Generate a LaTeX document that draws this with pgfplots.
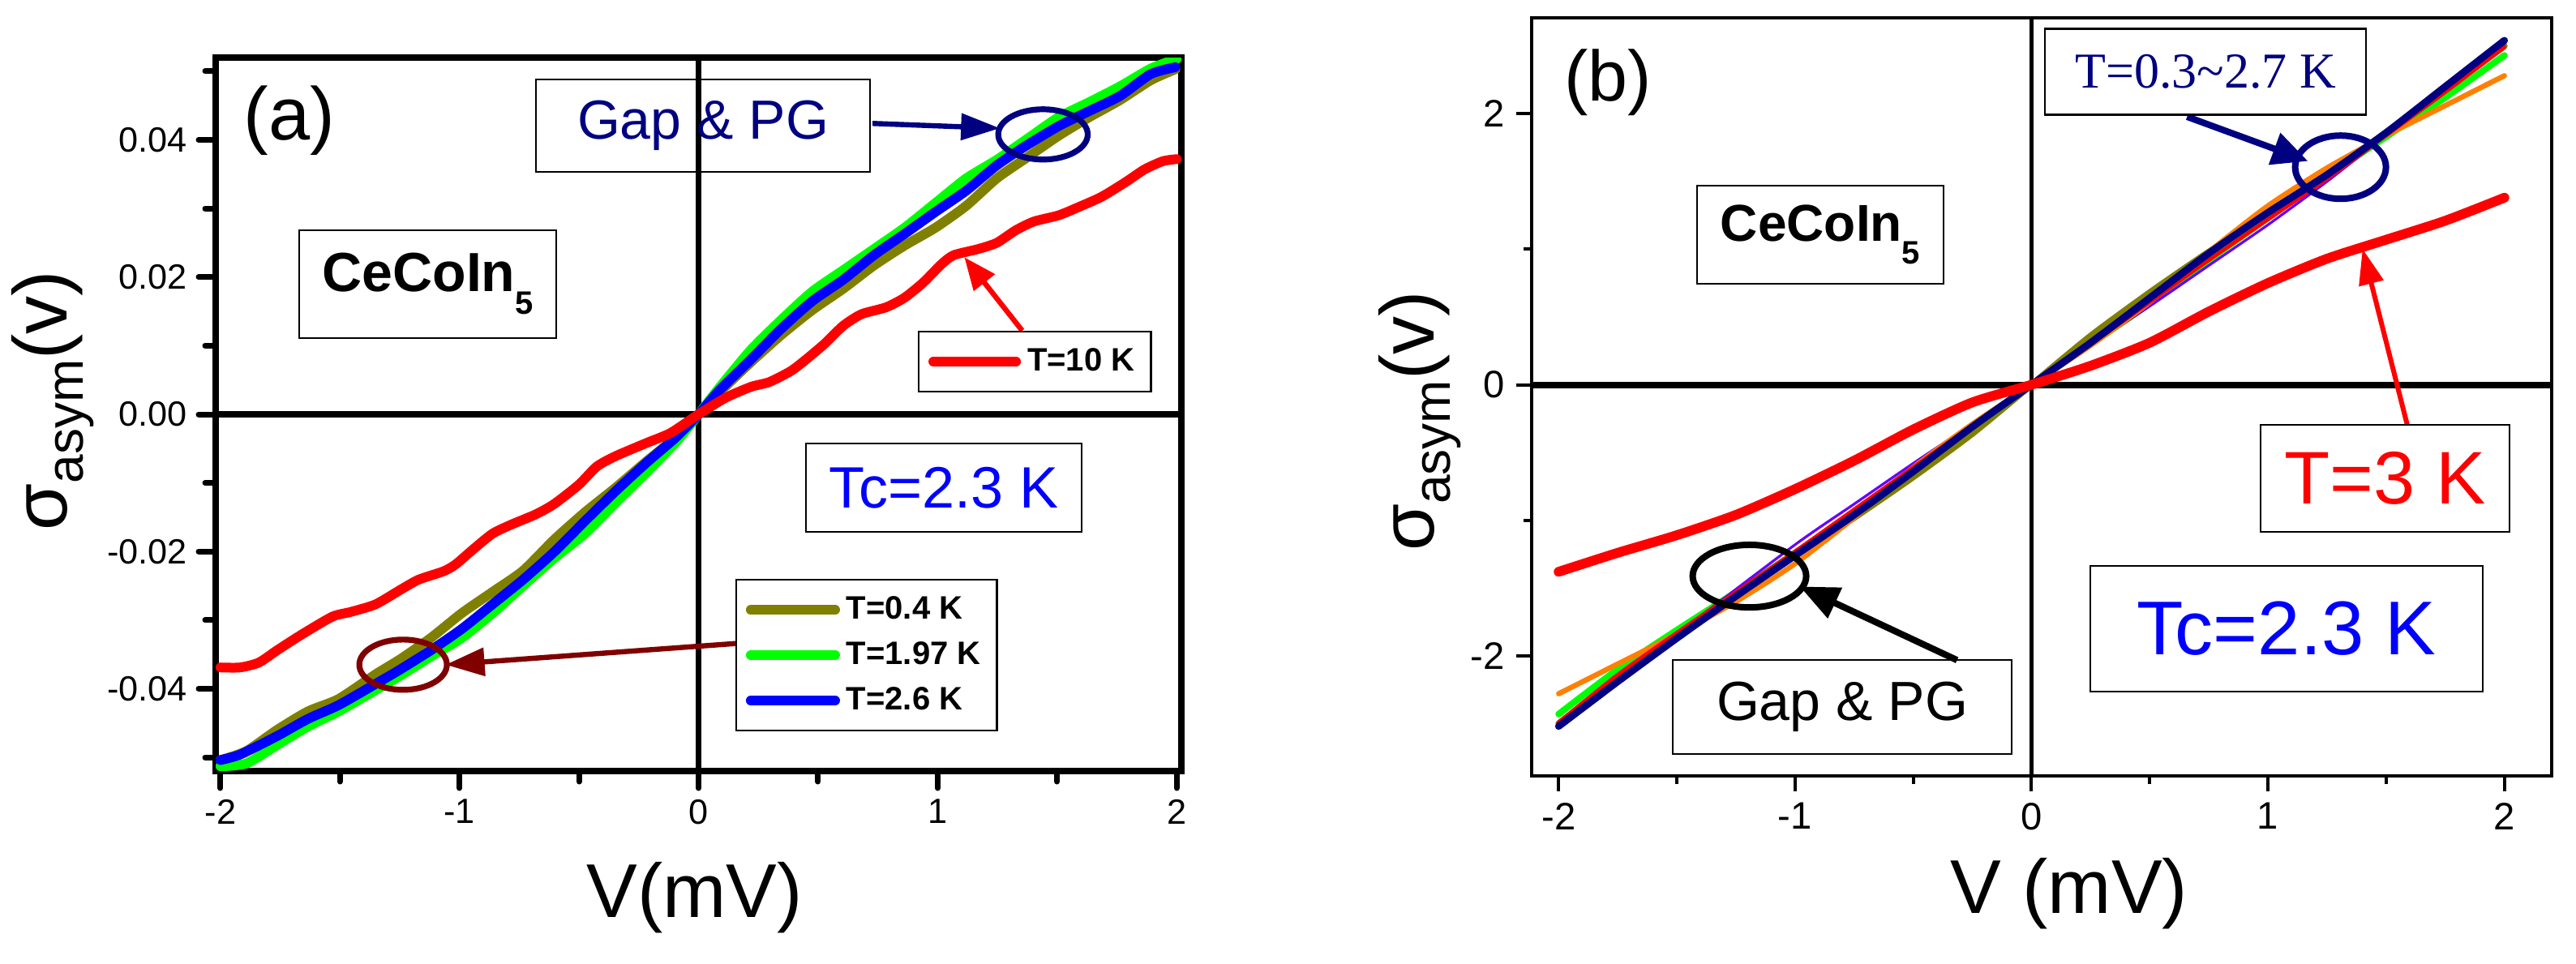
\documentclass[border=0pt]{standalone}
\usepackage{fontspec}
\setmainfont{Liberation Sans}
\newfontfamily\tnr{Liberation Serif}
\usepackage{pgfplots}
\pgfplotsset{compat=1.18}
\usetikzlibrary{arrows.meta}

\definecolor{cOlive}{RGB}{128,128,0}
\definecolor{cGreen}{RGB}{0,255,0}
\definecolor{cBlue}{RGB}{0,0,255}
\definecolor{cRed}{RGB}{255,0,0}
\definecolor{cNavy}{RGB}{0,0,128}
\definecolor{cWine}{RGB}{128,0,0}
\definecolor{cOrange}{RGB}{255,128,0}
\definecolor{cViolet}{RGB}{102,0,255}

\pgfplotsset{
  common/.style={
    scale only axis, tick pos=left, tick align=outside,
    /pgf/number format/assume math mode=true,
    every axis plot/.append style={line cap=round, line join=round, smooth, tension=0.4},
  },
  panelA/.style={
    common,
    at={(66.5pt,59.25pt)}, anchor=south west,
    width=297.75pt, height=220pt,
    xmin=-2.02, xmax=2.02, ymin=-0.052, ymax=0.052,
  },
}

\begin{document}
\begin{tikzpicture}
\path[use as bounding box] (0,0) rectangle (794.25pt,297pt);

% ---------------- panel (a) ----------------
\begin{axis}[panelA,
  xtick={-2,-1,0,1,2}, minor xtick={-1.5,-0.5,0.5,1.5},
  ytick={-0.04,-0.02,0,0.02,0.04}, minor ytick={-0.05,-0.03,-0.01,0.01,0.03,0.05},
  scaled y ticks=false,
  yticklabel style={/pgf/number format/fixed, /pgf/number format/fixed zerofill, /pgf/number format/precision=2},
  axis line style={line width=2pt},
  major tick length=5.25pt, minor tick length=3.25pt,
  tick style={black, line width=1.75pt, line cap=round},
  tick label style={font=\fontsize{10.8}{12}\selectfont},
  xlabel={V(mV)}, ylabel={σ\raisebox{-5pt}{\fontsize{16}{16}\selectfont asym}(v)},
  xlabel style={font=\fontsize{23.5}{28}\selectfont, at={(axis description cs:0.496,-0.178)}, anchor=center},
  ylabel style={font=\fontsize{23.5}{28}\selectfont, at={(axis description cs:-0.169,0.519)}, anchor=center},
  legend style={at={(axis description cs:0.538,0.2693)}, anchor=north west, draw=black, line width=0.6pt,
    font=\bfseries\fontsize{10}{12}\selectfont, inner xsep=3pt, inner ysep=3pt, row sep=1.5pt,
    cells={anchor=west}},
  legend image code/.code={\draw[#1, line width=3pt, sharp plot] (0pt,0pt) -- (26pt,0pt);},
]
\draw[black, line width=1.9pt] (axis cs:0,-0.052) -- (axis cs:0,0.052);
\draw[black, line width=1.9pt] (axis cs:-2.02,0) -- (axis cs:2.02,0);

\addplot[cOlive, line width=3pt] coordinates {
(-2,-0.0504) (-1.892,-0.0491) (-1.763,-0.0460) (-1.634,-0.0433) (-1.506,-0.0415) (-1.351,-0.0379) (-1.248,-0.0357) (-1.12,-0.0326) (-0.991,-0.0290) (-0.862,-0.0259) (-0.734,-0.0228) (-0.605,-0.0183) (-0.476,-0.0143) (-0.347,-0.0107) (-0.219,-0.0069) (-0.093,-0.0033) (0,0) (0.09,0.0033) (0.219,0.0076) (0.347,0.0116) (0.476,0.0152) (0.605,0.0183) (0.734,0.0217) (0.862,0.0246) (0.991,0.0272) (1.12,0.0304) (1.248,0.0344) (1.377,0.0375) (1.506,0.0406) (1.634,0.0433) (1.763,0.0458) (1.892,0.0487) (1.995,0.0503)};
\addlegendentry{T=0.4 K}
\addplot[cGreen, line width=3pt] coordinates {
(-2,-0.0513) (-1.892,-0.0509) (-1.763,-0.0482) (-1.634,-0.0455) (-1.506,-0.0433) (-1.351,-0.0402) (-1.248,-0.0381) (-1.12,-0.0353) (-0.991,-0.0326) (-0.862,-0.0290) (-0.734,-0.0250) (-0.605,-0.0210) (-0.476,-0.0174) (-0.347,-0.0129) (-0.219,-0.0085) (-0.093,-0.0040) (0,0) (0.09,0.0040) (0.219,0.0094) (0.347,0.0138) (0.476,0.0179) (0.605,0.0210) (0.734,0.0241) (0.862,0.0272) (0.991,0.0308) (1.12,0.0344) (1.248,0.0371) (1.377,0.0402) (1.506,0.0433) (1.634,0.0455) (1.763,0.0478) (1.892,0.0504) (2,0.0518)};
\addlegendentry{T=1.97 K}
\addplot[cBlue, line width=3pt] coordinates {
(-2,-0.0504) (-1.918,-0.0496) (-1.763,-0.0469) (-1.634,-0.0444) (-1.506,-0.0424) (-1.351,-0.0393) (-1.248,-0.0372) (-1.12,-0.0344) (-0.991,-0.0313) (-0.862,-0.0277) (-0.734,-0.0241) (-0.605,-0.0201) (-0.476,-0.0156) (-0.347,-0.0112) (-0.219,-0.0071) (-0.093,-0.0033) (0,0) (0.09,0.0036) (0.219,0.0080) (0.347,0.0125) (0.476,0.0165) (0.605,0.0196) (0.734,0.0232) (0.862,0.0263) (0.991,0.0295) (1.12,0.0326) (1.248,0.0363) (1.377,0.0393) (1.506,0.0420) (1.634,0.0442) (1.763,0.0464) (1.892,0.0496) (1.995,0.0506)};
\addlegendentry{T=2.6 K}

% annotations (a)
\draw[cNavy, line width=1.6pt, -{Triangle[length=12pt,width=8pt]}] (axis cs:0.728,0.0424) -- (axis cs:1.261,0.0417);
\draw[cNavy, line width=1.8pt] (axis cs:1.441,0.0408) ellipse [x radius=13.8pt, y radius=7.75pt];
\draw[cWine, line width=1.6pt, -{Triangle[length=12pt,width=8.5pt]}] (axis cs:0.159,-0.0334) -- (axis cs:-1.058,-0.0365);
\draw[cWine, line width=1.8pt] (axis cs:-1.236,-0.0365) ellipse [x radius=13.5pt, y radius=7.75pt];
\draw[cRed, line width=1.6pt, -{Triangle[length=10pt,width=8pt]}] (axis cs:1.354,0.0122) -- (axis cs:1.112,0.0229);
\end{axis}

\begin{axis}[panelA, hide axis,
  legend style={at={(axis description cs:0.727,0.617)}, anchor=north west, draw=black, line width=0.6pt,
    font=\bfseries\fontsize{10}{12}\selectfont, inner xsep=3pt, inner ysep=3pt, cells={anchor=west}},
  legend image code/.code={\draw[#1, line width=3pt, sharp plot] (0pt,0pt) -- (25.5pt,0pt);},
]
\addplot[cRed, line width=3pt] coordinates {
(-2,-0.0369) (-1.918,-0.0369) (-1.84,-0.0362) (-1.763,-0.0344) (-1.66,-0.0321) (-1.532,-0.0295) (-1.454,-0.0288) (-1.351,-0.0277) (-1.248,-0.0256) (-1.171,-0.0241) (-1.068,-0.0229) (-1.017,-0.0219) (-0.94,-0.0196) (-0.862,-0.0174) (-0.785,-0.0161) (-0.682,-0.0146) (-0.605,-0.0131) (-0.502,-0.0103) (-0.425,-0.0076) (-0.347,-0.0061) (-0.219,-0.0042) (-0.116,-0.0027) (0,0) (0.113,0.0024) (0.219,0.0040) (0.296,0.0047) (0.386,0.0063) (0.450,0.0080) (0.528,0.0103) (0.605,0.0129) (0.682,0.0146) (0.785,0.0156) (0.862,0.0170) (0.940,0.0192) (1.017,0.0219) (1.068,0.0232) (1.171,0.0241) (1.248,0.0250) (1.326,0.0268) (1.403,0.0281) (1.506,0.0290) (1.583,0.0301) (1.686,0.0317) (1.789,0.0339) (1.866,0.0357) (1.943,0.0369) (2,0.0372)};
\addlegendentry{T=10 K}
\end{axis}

% ---------------- panel (b) ----------------
\begin{axis}[common,
  at={(472.25pt,57.75pt)}, anchor=south west,
  width=314.5pt, height=233.75pt,
  xmin=-2.114, xmax=2.2, ymin=-2.886, ymax=2.707,
  xtick={-2,-1,0,1,2}, minor xtick={-1.5,-0.5,0.5,1.5},
  ytick={-2,0,2}, minor ytick={-1,1},
  axis line style={line width=1.1pt},
  major tick length=4.75pt, minor tick length=2.5pt,
  tick style={black, line width=1pt},
  tick label style={font=\fontsize{11.8}{13}\selectfont},
  xlabel={V (mV)}, ylabel={σ\raisebox{-5pt}{\fontsize{16}{16}\selectfont asym}(v)},
  xlabel style={font=\fontsize{23.5}{28}\selectfont, at={(axis description cs:0.527,-0.155)}, anchor=center},
  ylabel style={font=\fontsize{23.5}{28}\selectfont, at={(axis description cs:-0.11,0.468)}, anchor=center},
]
\draw[black, line width=1.3pt] (axis cs:0,-2.886) -- (axis cs:0,2.707);
\draw[black, line width=2pt] (axis cs:-2.114,0) -- (axis cs:2.2,0);

\addplot[cOlive, line width=2pt] coordinates {
(-2,-2.50) (-1.5,-1.86) (-1,-1.26) (-0.75,-0.98) (-0.5,-0.68) (-0.25,-0.36) (0,0) (0.25,0.36) (0.5,0.68) (0.75,0.98) (1,1.26) (1.5,1.86) (2,2.50)};
\addplot[cGreen, line width=2pt] coordinates {
(-2,-2.43) (-1.75,-2.10) (-1.5,-1.81) (-1.25,-1.53) (-1,-1.24) (-0.75,-0.94) (-0.5,-0.62) (-0.25,-0.31) (0,0) (0.25,0.30) (0.5,0.60) (0.75,0.92) (1,1.23) (1.25,1.54) (1.5,1.83) (1.75,2.12) (2,2.43)};
\addplot[cViolet, line width=0.8pt] coordinates {
(-2,-2.5) (-1.5,-1.84) (-1,-1.18) (-0.75,-0.88) (-0.5,-0.58) (-0.25,-0.29) (0,0) (0.25,0.29) (0.5,0.58) (0.75,0.88) (1,1.18) (1.25,1.5) (1.5,1.84) (2,2.5)};
\addplot[cOrange, line width=1.6pt] coordinates {
(-2,-2.28) (-1.75,-2.06) (-1.5,-1.84) (-1.25,-1.60) (-1,-1.32) (-0.75,-0.98) (-0.5,-0.61) (-0.25,-0.29) (0,0) (0.25,0.29) (0.5,0.61) (0.75,0.98) (1,1.32) (1.25,1.60) (1.5,1.84) (1.75,2.06) (2,2.28)};
\addplot[cRed, line width=1.2pt] coordinates {
(-2,-2.49) (-1.75,-2.14) (-1.5,-1.83) (-1.25,-1.53) (-1,-1.23) (-0.75,-0.92) (-0.5,-0.61) (-0.25,-0.30) (0,0) (0.25,0.30) (0.5,0.61) (0.75,0.92) (1,1.22) (1.25,1.52) (1.5,1.84) (1.75,2.16) (2,2.49)};
\addplot[cNavy, line width=2.2pt] coordinates {
(-2,-2.52) (-1.75,-2.19) (-1.5,-1.87) (-1.25,-1.56) (-1,-1.26) (-0.75,-0.96) (-0.5,-0.64) (-0.25,-0.31) (0,0) (0.25,0.31) (0.5,0.64) (0.75,0.97) (1,1.27) (1.25,1.55) (1.5,1.86) (1.75,2.2) (2,2.54)};
\addplot[cRed, line width=3pt] coordinates {
(-2,-1.38) (-1.75,-1.24) (-1.5,-1.11) (-1.25,-0.96) (-1,-0.77) (-0.75,-0.56) (-0.5,-0.33) (-0.25,-0.13) (0,0) (0.25,0.14) (0.5,0.31) (0.75,0.54) (1,0.75) (1.25,0.93) (1.5,1.07) (1.75,1.21) (2,1.38)};

% annotations (b)
\draw[cNavy, line width=2pt, -{Triangle[length=11pt,width=10pt]}] (axis cs:0.658,1.977) -- (axis cs:1.169,1.650);
\draw[cNavy, line width=2pt] (axis cs:1.307,1.605) ellipse [x radius=14pt, y radius=9.75pt];
\draw[cRed, line width=1.5pt, -{Triangle[length=11pt,width=7.5pt]}] (axis cs:1.589,-0.296) -- (axis cs:1.40,1.003);
\draw[black, line width=2pt, -{Triangle[length=12pt,width=10pt]}] (axis cs:-0.315,-2.032) -- (axis cs:-0.98,-1.489);
\draw[black, line width=2pt] (axis cs:-1.193,-1.412) ellipse [x radius=17.5pt, y radius=9.65pt];
\end{axis}

% ---------------- text boxes ----------------
\node[font=\fontsize{23}{26}\selectfont] at (89.25pt,259.75pt) {(a)};
\node[draw, line width=0.6pt, minimum width=103pt, minimum height=28.4pt, inner sep=0pt, text=cNavy,
  font=\fontsize{17}{20}\selectfont] at (216.75pt,258.25pt) {Gap \& PG};
\node[draw, line width=0.6pt, minimum width=79.25pt, minimum height=33.25pt, inner sep=0pt,
  font=\bfseries\fontsize{17}{20}\selectfont] at (131.9pt,209.4pt) {CeCoIn\raisebox{-7pt}{\fontsize{10}{10}\selectfont 5}};
\node[draw, line width=0.6pt, minimum width=85pt, minimum height=27.25pt, inner sep=0pt, text=cBlue,
  font=\fontsize{18}{21}\selectfont] at (291pt,146.6pt) {Tc=2.3 K};

\node[font=\fontsize{22}{26}\selectfont] at (495.75pt,271.5pt) {(b)};
\node[draw, line width=0.6pt, minimum width=99pt, minimum height=26.5pt, inner sep=0pt, text=cNavy,
  font=\tnr\fontsize{15.5}{18}\selectfont] at (680pt,274.85pt) {T=0.3\textasciitilde 2.7 K};
\node[draw, line width=0.6pt, minimum width=76pt, minimum height=30.25pt, inner sep=0pt,
  font=\bfseries\fontsize{16}{19}\selectfont] at (561.25pt,224.6pt) {CeCoIn\raisebox{-7pt}{\fontsize{10}{10}\selectfont 5}};
\node[draw, line width=0.6pt, minimum width=76.75pt, minimum height=33pt, inner sep=0pt, text=cRed,
  font=\fontsize{23}{26}\selectfont] at (735.4pt,149.5pt) {T=3 K};
\node[draw, line width=0.6pt, minimum width=121pt, minimum height=38.75pt, inner sep=0pt, text=cBlue,
  font=\fontsize{23.5}{27}\selectfont] at (705pt,103.1pt) {Tc=2.3 K};
\node[draw, line width=0.6pt, minimum width=104.5pt, minimum height=29pt, inner sep=0pt,
  font=\fontsize{17}{20}\selectfont] at (568pt,79pt) {Gap \& PG};
\end{tikzpicture}
\end{document}
